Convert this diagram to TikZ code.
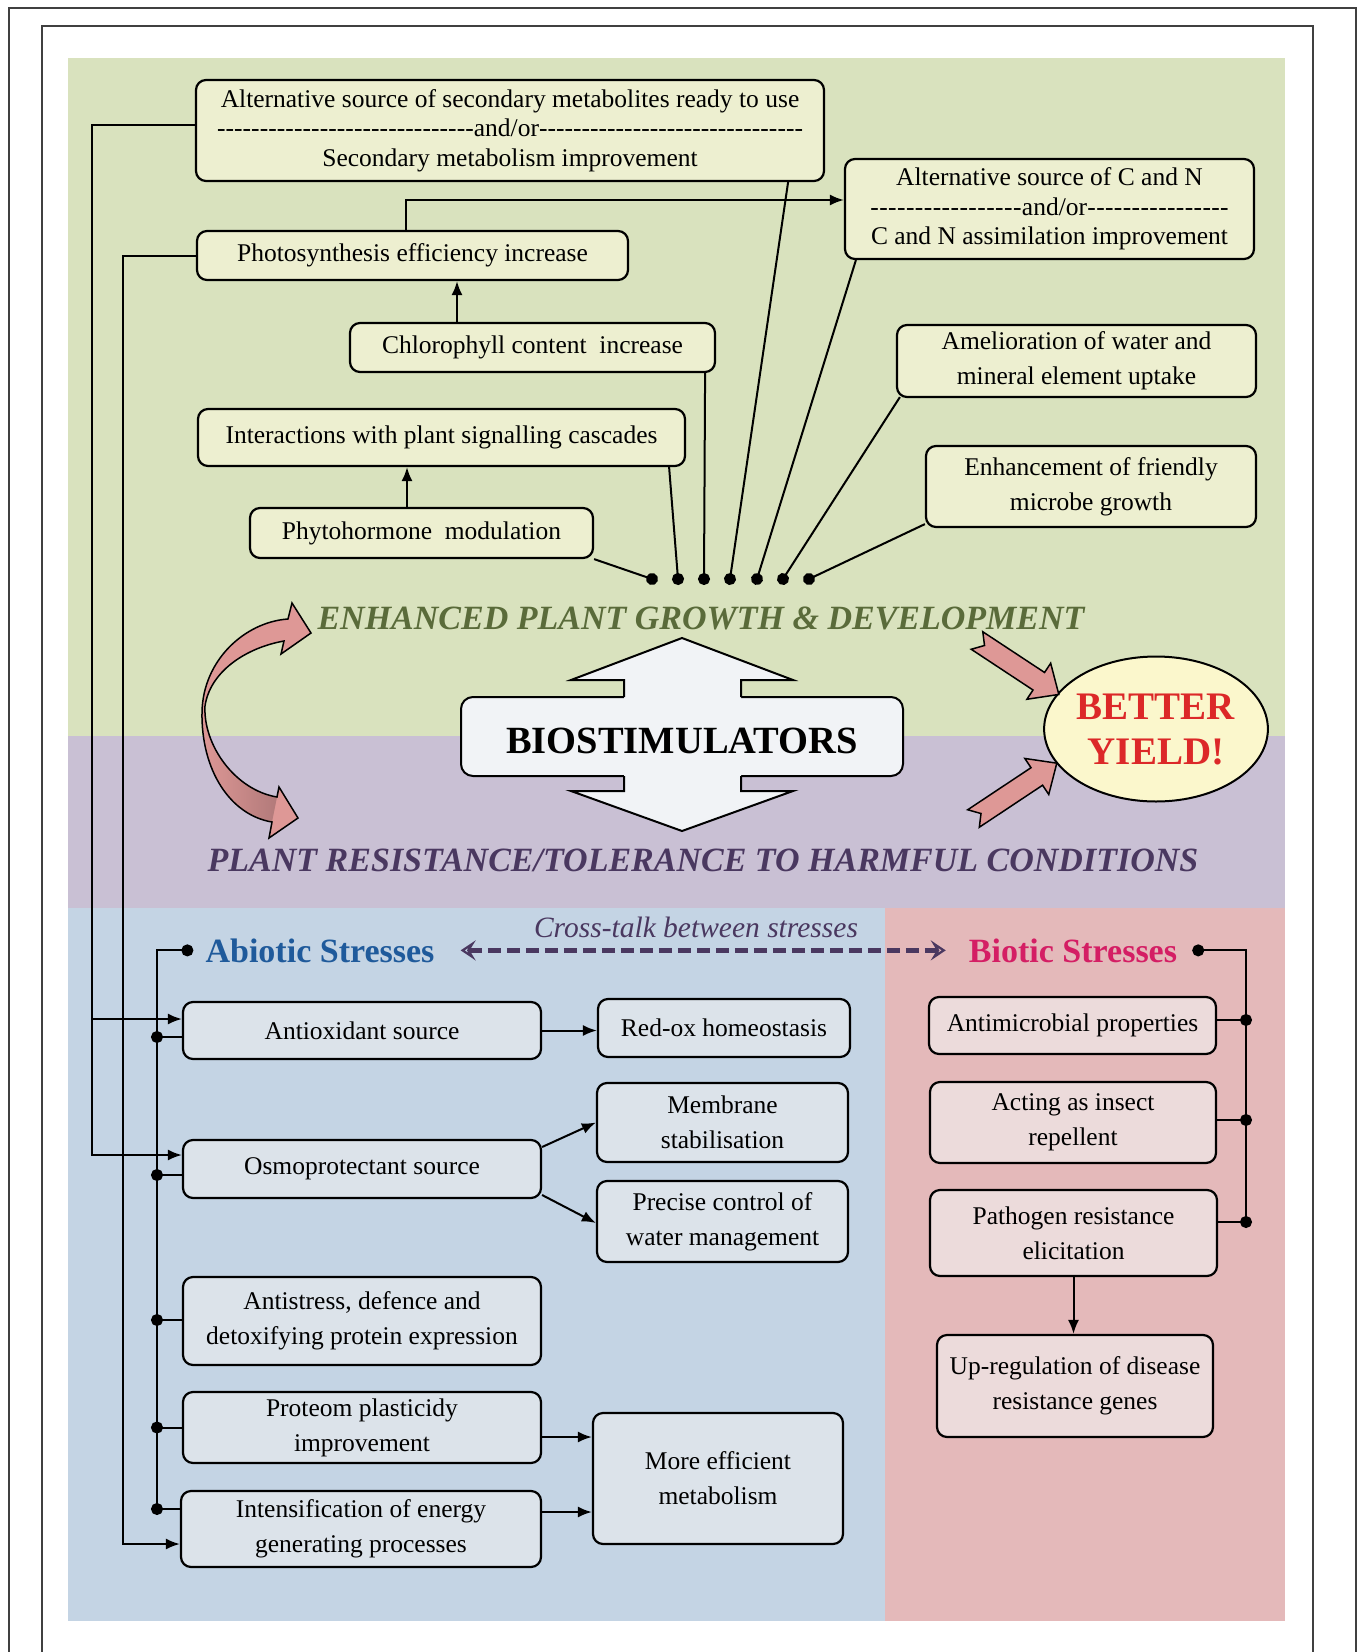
\documentclass[tikz,border=0pt]{standalone}
\usepackage{fontspec}
\setmainfont{Liberation Serif}
\usetikzlibrary{arrows.meta,shapes.geometric}

\definecolor{greenbg}{RGB}{217,226,190}
\definecolor{purplebg}{RGB}{201,192,212}
\definecolor{bluebg}{RGB}{196,212,228}
\definecolor{pinkbg}{RGB}{228,185,186}
\definecolor{greenbox}{RGB}{237,239,208}
\definecolor{bluebox}{RGB}{220,227,234}
\definecolor{pinkbox}{RGB}{236,219,219}
\definecolor{arrowpink}{RGB}{222,152,150}
\definecolor{arrowdark}{RGB}{178,122,122}
\definecolor{growthtext}{RGB}{90,107,58}
\definecolor{resisttext}{RGB}{74,56,96}
\definecolor{abiotext}{RGB}{31,90,155}
\definecolor{biotext}{RGB}{212,30,100}
\definecolor{yieldtext}{RGB}{220,40,40}
\definecolor{yieldfill}{RGB}{251,247,204}
\definecolor{biofill}{RGB}{241,243,246}

\newcommand\dashrun[1]{\hbox to #1pt{\xleaders\hbox{-}\hfill}}
\newcommand\titlefont{\fontsize{34}{40}\selectfont\bfseries\itshape}

\tikzset{
  box/.style={draw, line width=2.2pt, rounded corners=10pt, align=center, inner sep=0pt,
    font=\fontsize{25.5}{35}\selectfont},
  gbox/.style={box, fill=greenbox},
  bbox/.style={box, fill=bluebox},
  pbox/.style={box, fill=pinkbox},
  conn/.style={line width=2pt},
  arr/.style={conn, -{Latex[length=14pt,width=11pt]}},
  dot/.style={conn, -{Circle[length=12pt]}, shorten >=-6pt},
  bigarrow/.style={fill=arrowpink, draw, line width=1.5pt, line join=miter},
  label/.style={inner sep=0pt, anchor=base},
  cross/.style={draw=resisttext, line width=4.5pt, dash pattern=on 13pt off 6pt,
    {Stealth[open,length=15pt,width=20pt,inset=6pt,line width=3pt]}-{Stealth[open,length=15pt,width=20pt,inset=6pt,line width=3pt]}},
}

\begin{document}
\begin{tikzpicture}[x=1pt, y=-1pt]
\useasboundingbox (0,0) rectangle (1360,1652);

% page frames
\draw[line width=1.5pt, black!75] (9,1652) -- (9,8) -- (1356,8) -- (1356,1652);
\draw[line width=1.5pt, black!75] (42,1652) -- (42,26) -- (1313,26) -- (1313,1652);

% panels
\fill[greenbg] (68,58) rectangle (1285,736);
\fill[purplebg] (68,736) rectangle (1285,908);
\fill[bluebg] (68,908) rectangle (885,1621);
\fill[pinkbg] (885,908) rectangle (1285,1621);

% growth boxes
\node[gbox, minimum width=628, minimum height=101, font=\fontsize{25.5}{29.5}\selectfont] (sec) at (510,130.5)
  {Alternative source of secondary metabolites ready to use\\ \dashrun{257}and/or\dashrun{264}\\ Secondary metabolism improvement};
\node[gbox, minimum width=409, minimum height=100, font=\fontsize{25.5}{29.5}\selectfont] (cn) at (1049.5,209)
  {Alternative source of C and N\\ \dashrun{152}and/or\dashrun{142}\\ C and N assimilation improvement};
\node[gbox, minimum width=431, minimum height=49] (photo) at (412.5,255.5) {Photosynthesis efficiency increase};
\node[gbox, minimum width=365, minimum height=49] (chloro) at (532.5,347.5) {Chlorophyll content\ \ increase};
\node[gbox, minimum width=359, minimum height=72] (amel) at (1076.5,361) {Amelioration of water and\\ mineral element uptake};
\node[gbox, minimum width=487, minimum height=57] (inter) at (441.5,437.5) {Interactions with plant signalling cascades};
\node[gbox, minimum width=330, minimum height=81] (enh) at (1091,486.5) {Enhancement of friendly\\ microbe growth};
\node[gbox, minimum width=343, minimum height=50] (phyto) at (421.5,533) {Phytohormone\ \ modulation};

% abiotic boxes
\node[bbox, minimum width=358, minimum height=57] (antiox) at (362,1030.5) {Antioxidant source};
\node[bbox, minimum width=252, minimum height=58] (redox) at (724,1028) {Red-ox homeostasis};
\node[bbox, minimum width=251, minimum height=79] (membr) at (722.5,1122.5) {Membrane\\ stabilisation};
\node[bbox, minimum width=358, minimum height=58] (osmo) at (362,1169) {Osmoprotectant source};
\node[bbox, minimum width=251, minimum height=81] (precise) at (722.5,1221.5) {Precise control of\\ water management};
\node[bbox, minimum width=358, minimum height=88] (antistress) at (362,1321) {Antistress, defence and\\ detoxifying protein expression};
\node[bbox, minimum width=358, minimum height=71] (proteom) at (362,1427.5) {Proteom plasticidy\\ improvement};
\node[bbox, minimum width=360, minimum height=76] (intens) at (361,1529) {Intensification of energy\\ generating processes};
\node[bbox, minimum width=250, minimum height=131] (moreeff) at (718,1478.5) {More efficient\\ metabolism};

% biotic boxes
\node[pbox, minimum width=287, minimum height=57] (antimic) at (1072.5,1025.5) {Antimicrobial properties};
\node[pbox, minimum width=286, minimum height=81] (insect) at (1073,1122.5) {Acting as insect\\ repellent};
\node[pbox, minimum width=287, minimum height=86] (patho) at (1073.5,1233) {Pathogen resistance\\ elicitation};
\node[pbox, minimum width=276, minimum height=102] (upreg) at (1075,1386) {Up-regulation of disease\\ resistance genes};

% titles
\node[label, font=\titlefont, text=growthtext] (growth) at (701,629) {ENHANCED PLANT GROWTH \& DEVELOPMENT};
\node[label, font=\titlefont, text=resisttext] (resist) at (703,871) {PLANT RESISTANCE/TOLERANCE TO HARMFUL CONDITIONS};
\node[label, font=\fontsize{34}{40}\selectfont\bfseries, text=abiotext] (abio) at (320,962) {Abiotic Stresses};
\node[label, font=\fontsize{34}{40}\selectfont\bfseries, text=biotext] (bio) at (1073,962) {Biotic Stresses};
\node[label, font=\fontsize{29.5}{34}\selectfont\itshape, text=resisttext] (cross) at (696,937) {Cross-talk between stresses};

% biostimulators double arrow
\draw[line width=2pt, fill=biofill, rounded corners=12pt] (461,697) rectangle (903,776);
\fill[biofill] (624,699) -- (624,680) -- (571,680) -- (682,638) -- (793,680) -- (741,680) -- (741,699) -- cycle;
\draw[line width=2pt, line join=miter] (624,697) -- (624,680) -- (571,680) -- (682,638) -- (793,680) -- (741,680) -- (741,697);
\fill[biofill] (624,774) -- (624,791) -- (571,791) -- (682,831) -- (793,791) -- (741,791) -- (741,774) -- cycle;
\draw[line width=2pt, line join=miter] (624,776) -- (624,791) -- (571,791) -- (682,831) -- (793,791) -- (741,791) -- (741,776);
\node[label, font=\fontsize{38.5}{44}\selectfont\bfseries] (biostim) at (682,753) {BIOSTIMULATORS};

% better yield
\node[ellipse, draw, line width=2pt, fill=yieldfill, minimum width=202, minimum height=145, inner sep=0pt,
  align=center, font=\fontsize{39}{45}\selectfont\bfseries, text=yieldtext] (yield) at (1156,729) {BETTER\\ YIELD!};

% curved arrow between growth and resistance
\fill[arrowpink] (311,633) -- (281,654) -- (284,641) .. controls (245,648) and (210,672) .. (205,706)
  .. controls (203,745) and (235,790) .. (277,797) -- (279,787) -- (298,818) -- (269,838) -- (272,822)
  .. controls (230,815) and (201,770) .. (202,712) .. controls (203,660) and (245,622) .. (288,619) -- (292,603) -- cycle;
\shade[left color=arrowpink, right color=arrowdark] (205,706) .. controls (203,745) and (235,790) .. (277,797)
  -- (272,822) .. controls (230,815) and (201,770) .. (202,712) -- cycle;
\draw[line width=1.5pt, line join=miter] (311,633) -- (281,654) -- (284,641) .. controls (245,648) and (210,672) .. (205,706)
  .. controls (203,745) and (235,790) .. (277,797) -- (279,787) -- (298,818) -- (269,838) -- (272,822)
  .. controls (230,815) and (201,770) .. (202,712) .. controls (203,660) and (245,622) .. (288,619) -- (292,603) -- cycle;

% arrows into better yield
\begin{scope}[shift={(977,640.5)}, rotate=-33.4]
\filldraw[bigarrow] (0,-10.5) -- (74,-10.5) -- (74,-21.6) -- (98,0) -- (74,21.6) -- (74,10.5) -- (0,10.5) -- (9,0) -- cycle;
\end{scope}
\begin{scope}[shift={(973.5,818.5)}, rotate=33.6]
\filldraw[bigarrow] (0,-10.5) -- (76,-10.5) -- (76,-21.6) -- (100,0) -- (76,21.6) -- (76,10.5) -- (0,10.5) -- (9,0) -- cycle;
\end{scope}

% gathering dots
\coordinate (d1) at (652,579);
\coordinate (d2) at (678,579);
\coordinate (d3) at (704,579);
\coordinate (d4) at (730,579);
\coordinate (d5) at (757,579);
\coordinate (d6) at (783,579);
\coordinate (d7) at (809,579);

\draw[dot] (phyto.south east) -- (d1);
\draw[dot] ([xshift=-17pt]inter.south east) -- (d2);
\draw[dot] ([xshift=-11pt]chloro.south east) -- (d3);
\draw[dot] ([xshift=-37pt]sec.south east) -- (d4);
\draw[dot] ([xshift=12pt]cn.south west) -- (d5);
\draw[dot] ([xshift=4pt,yshift=1pt]amel.south west) -- (d6);
\draw[dot] ([yshift=4pt]enh.south west) -- (d7);

% arrows between growth boxes
\coordinate (xp) at (407,0);
\coordinate (xq) at (457,0);
\coordinate (xr) at (406,0);
\draw[arr] (phyto.north -| xp) -- (inter.south -| xp);
\draw[arr] (chloro.north -| xq) -- (photo.south -| xq);
\draw[arr] (photo.north -| xr) |- ([yshift=9pt]cn.west);

% long lines down to the abiotic boxes
\coordinate (xa) at (92,0);
\coordinate (xb) at (123,0);
\coordinate (secout) at ([yshift=5.5pt]sec.west);
\coordinate (antin) at ([yshift=11.5pt]antiox.west);
\coordinate (osmin) at ([yshift=14pt]osmo.west);
\coordinate (intin) at ([yshift=-15pt]intens.west);
\draw[arr] (secout) -- (secout -| xa) |- (antin);
\draw[arr] (antin -| xa) |- (osmin);
\draw[arr] (photo.west) -- (photo.west -| xb) |- (intin);

% abiotic tree
\coordinate (xc) at (157,0);
\coordinate (abdot) at ([xshift=-18pt]abio.west);
\coordinate (a1) at ([yshift=-6.5pt]antiox.west);
\coordinate (a2) at ([yshift=-6pt]osmo.west);
\coordinate (a3) at ([yshift=1pt]antistress.west);
\coordinate (a4) at (proteom.west);
\coordinate (a5) at ([yshift=20pt]intens.west);
\draw[dot] (a5 -| xc) |- (abdot);
\draw[dot] (a1) -- (a1 -| xc);
\draw[dot] (a2) -- (a2 -| xc);
\draw[dot] (a3) -- (a3 -| xc);
\draw[dot] (a4) -- (a4 -| xc);
\draw[dot] (a5) -- (a5 -| xc);

% biotic tree
\coordinate (xd) at (1246,0);
\coordinate (bidot) at ([xshift=21pt]bio.east);
\coordinate (b1) at ([yshift=5.5pt]antimic.east);
\coordinate (b2) at ([yshift=2.5pt]insect.east);
\coordinate (b3) at ([yshift=11pt]patho.east);
\draw[dot] (b3 -| xd) |- (bidot);
\draw[dot] (b1) -- (b1 -| xd);
\draw[dot] (b2) -- (b2 -| xd);
\draw[dot] (b3) -- (b3 -| xd);

% abiotic and biotic effects
\coordinate (ao) at (antiox.east);
\coordinate (o1) at ([yshift=22pt]osmo.east);
\coordinate (o2) at ([yshift=-26pt]osmo.east);
\coordinate (po) at ([yshift=-9.5pt]proteom.east);
\coordinate (io) at ([yshift=17pt]intens.east);
\draw[arr] (ao) -- (ao -| redox.west);
\draw[arr] (o1) -- (membr.west);
\draw[arr] (o2) -- ([yshift=-1.5pt]precise.west);
\draw[arr] (po) -- (po -| moreeff.west);
\draw[arr] (io) -- (io -| moreeff.west);
\draw[arr] (patho.south) -- (patho.south |- upreg.north);

% cross-talk
\draw[cross] ([xshift=26pt]abio.east) -- ([xshift=-23pt]bio.west);
\end{tikzpicture}
\end{document}
